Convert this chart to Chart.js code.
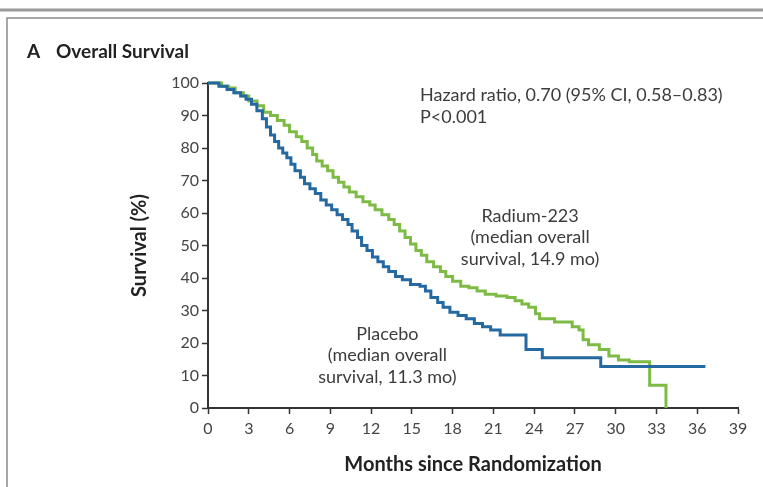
<!DOCTYPE html>
<html>
<head>
<meta charset="utf-8">
<title>Overall Survival</title>
<script src="https://cdn.jsdelivr.net/npm/chart.js@4.4.1/dist/chart.umd.min.js"></script>
<style>
  html, body { margin: 0; padding: 0; background: #fff; }
  #wrap { position: relative; width: 763px; height: 487px; }
  canvas { display: block; }
</style>
</head>
<body>
<div id="wrap"><canvas id="km" width="763" height="487"></canvas></div>
<script>
// Kaplan-Meier estimates: month of each drop and survival (%) after it
const radiumMonths = [0, 1.0, 1.5, 2.0, 2.6, 3.0, 3.6, 4.1, 4.6, 5.1, 5.6, 6.0, 6.5, 6.9, 7.3, 7.7, 8.0, 8.4, 8.8, 9.2, 9.6, 10.0, 10.4, 10.9, 11.4, 11.9, 12.3, 12.8, 13.3, 13.7, 14.1, 14.5, 14.9, 15.3, 15.7, 16.1, 16.6, 17.1, 17.5, 18.0, 18.6, 19.2, 19.8, 20.4, 21.2, 22.0, 22.6, 23.1, 23.6, 24.1, 24.4, 25.5, 26.8, 27.3, 27.6, 28.0, 28.8, 29.5, 30.2, 31.0, 32.5, 33.7];
const radiumSurvival = [100, 99, 98.5, 97, 96, 94.5, 93, 91, 90, 88.5, 87, 85, 83.5, 82, 80, 78, 76, 74.5, 73, 71, 69.5, 68, 66.5, 65, 63.5, 62.5, 61, 59.5, 58, 56.5, 54.5, 52.5, 50.5, 48.5, 47, 45, 43.5, 42, 40.5, 39, 37.5, 37, 36, 35, 34.5, 34, 33, 32, 31, 29, 27.5, 26.5, 25, 24, 21, 19.5, 18, 16, 14.8, 14.2, 7, 0];

const placeboMonths = [0, 0.8, 1.4, 1.9, 2.4, 2.8, 3.2, 3.6, 4.0, 4.3, 4.6, 4.9, 5.2, 5.5, 5.8, 6.1, 6.4, 6.8, 7.1, 7.5, 7.9, 8.3, 8.7, 9.1, 9.5, 9.9, 10.3, 10.6, 11.0, 11.3, 11.7, 12.1, 12.5, 12.9, 13.3, 13.8, 14.3, 14.9, 15.6, 16.0, 16.4, 16.9, 17.3, 17.8, 18.4, 19.0, 19.6, 20.2, 20.8, 21.5, 23.4, 24.6, 28.9, 36.6];
const placeboSurvival = [100, 99, 98, 97, 96, 95, 93.5, 91.5, 89, 86.5, 84, 82, 80, 78.5, 77, 75, 73, 71, 69, 67.5, 66, 64, 62.5, 61, 59.5, 58, 56.5, 54.5, 52.5, 50, 48.5, 46.5, 45, 43.5, 42, 40.5, 39.5, 38, 37.5, 36, 34, 32.5, 31, 29.5, 28.5, 27.5, 26, 25, 24, 22.5, 18, 15.5, 12.8, 12.8];

const monthTicks = [0, 3, 6, 9, 12, 15, 18, 21, 24, 27, 30, 33, 36, 39];
const survivalTicks = [0, 10, 20, 30, 40, 50, 60, 70, 80, 90, 100];

const panelLetter = 'A';
const panelTitle = 'Overall Survival';
const statsLines = ['Hazard ratio, 0.70 (95% CI, 0.58\u20130.83)', 'P<0.001'];
const radiumLabel = ['Radium-223', '(median overall', 'survival, 14.9 mo)'];
const placeboLabel = ['Placebo', '(median overall', 'survival, 11.3 mo)'];

const FONT = 'Lato, "Open Sans", sans-serif';
const INK = '#3c3c3c';
const AXIS = '#333333';

function toPoints(xs, ys) {
  return xs.map((x, i) => ({ x: x, y: ys[i] }));
}

// Panel frame and heading
const framePlugin = {
  id: 'frame',
  beforeDraw(chart) {
    const ctx = chart.ctx;
    ctx.save();
    ctx.fillStyle = '#fff';
    ctx.fillRect(0, 0, chart.width, chart.height);
    ctx.strokeStyle = '#9a9a9a';
    ctx.lineWidth = 3;
    ctx.beginPath();
    ctx.moveTo(0, 10); ctx.lineTo(chart.width, 10);
    ctx.stroke();
    ctx.lineWidth = 1.5;
    ctx.strokeStyle = '#8a8a8a';
    ctx.beginPath();
    ctx.moveTo(chart.width, 18); ctx.lineTo(7, 18); ctx.lineTo(7, chart.height);
    ctx.stroke();
    ctx.fillStyle = '#222';
    ctx.textBaseline = 'middle';
    ctx.textAlign = 'left';
    ctx.font = 'bold 19px ' + FONT;
    ctx.fillText(panelLetter, 27, 52);
    ctx.fillText(panelTitle, 56, 52);
    ctx.restore();
  }
};

// Text notes placed in data coordinates
const notesPlugin = {
  id: 'notes',
  afterDatasetsDraw(chart) {
    const ctx = chart.ctx;
    const xs = chart.scales.x, ys = chart.scales.y;
    const notes = [
      { lines: statsLines, x: 15.6, y: 96.3, align: 'left', step: 22 },
      { lines: radiumLabel, x: 23.7, y: 59.1, align: 'center', step: 21.5 },
      { lines: placeboLabel, x: 13.2, y: 22.8, align: 'center', step: 21.5 }
    ];
    ctx.save();
    ctx.fillStyle = INK;
    ctx.font = '18px ' + FONT;
    ctx.textBaseline = 'middle';
    notes.forEach(n => {
      ctx.textAlign = n.align;
      const px = xs.getPixelForValue(n.x);
      const py = ys.getPixelForValue(n.y);
      n.lines.forEach((t, i) => ctx.fillText(t, px, py + i * n.step));
    });
    ctx.restore();
  }
};

new Chart(document.getElementById('km'), {
  type: 'line',
  data: {
    datasets: [
      {
        label: 'Placebo',
        data: toPoints(placeboMonths, placeboSurvival),
        borderColor: '#2569a3',
        borderWidth: 3,
        stepped: 'before',
        pointRadius: 0,
        fill: false,
        clip: 6
      },
      {
        label: 'Radium-223',
        data: toPoints(radiumMonths, radiumSurvival),
        borderColor: '#7dbb45',
        borderWidth: 3,
        stepped: 'before',
        pointRadius: 0,
        fill: false,
        clip: 6
      }
    ]
  },
  options: {
    responsive: false,
    devicePixelRatio: 1,
    animation: false,
    layout: { padding: { left: 128, top: 83, right: 25, bottom: 10 } },
    plugins: {
      legend: { display: false },
      tooltip: { enabled: false }
    },
    scales: {
      x: {
        type: 'linear',
        min: 0,
        max: 39,
        afterBuildTicks: s => { s.ticks = monthTicks.map(v => ({ value: v })); },
        afterFit: s => { s.height = 69; },
        grid: { drawOnChartArea: false, drawTicks: true, tickLength: 6, tickColor: AXIS, tickWidth: 1.5 },
        border: { display: true, color: AXIS, width: 2 },
        ticks: { color: '#444', font: { family: FONT, size: 16 }, padding: 5, maxRotation: 0, autoSkip: false },
        title: { display: true, text: 'Months since Randomization', color: '#222', font: { family: FONT, size: 20, weight: 'bold' }, padding: { top: 0, bottom: 0 } }
      },
      y: {
        type: 'linear',
        min: 0,
        max: 100,
        afterBuildTicks: s => { s.ticks = survivalTicks.map(v => ({ value: v })); },
        afterFit: s => { s.width = 80; },
        grid: { drawOnChartArea: false, drawTicks: true, tickLength: 6, tickColor: AXIS, tickWidth: 1.5 },
        border: { display: true, color: AXIS, width: 2 },
        ticks: { color: '#444', font: { family: FONT, size: 16 }, padding: 3, autoSkip: false },
        title: { display: true, text: 'Survival (%)', color: '#222', font: { family: FONT, size: 20, weight: 'bold' }, padding: { top: 0, bottom: 0 } }
      }
    }
  },
  plugins: [framePlugin, notesPlugin]
});
</script>
</body>
</html>
